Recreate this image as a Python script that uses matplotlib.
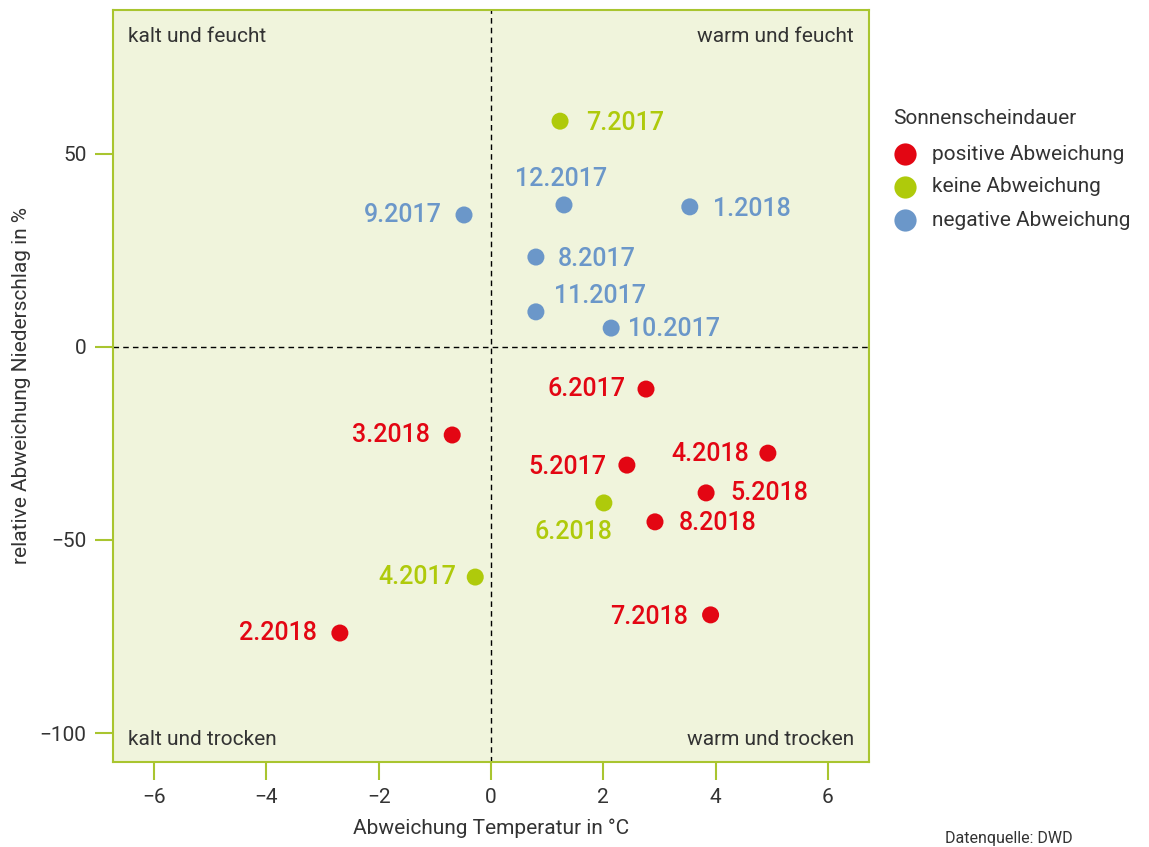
import matplotlib.pyplot as plt

# Daten: Abweichung Temperatur (°C) und relative Abweichung Niederschlag (%)
monate = ["7.2017", "12.2017", "1.2018", "9.2017", "8.2017", "11.2017", "10.2017",
          "6.2017", "3.2018", "4.2018", "5.2017", "5.2018", "6.2018", "8.2018",
          "4.2017", "7.2018", "2.2018"]
temp = [1.23, 1.30, 3.54, -0.48, 0.80, 0.80, 2.14,
        2.76, -0.69, 4.93, 2.42, 3.83, 2.01, 2.92,
        -0.28, 3.91, -2.69]
nieder = [58.5, 36.8, 36.3, 34.2, 23.3, 9.1, 4.9,
          -10.9, -22.8, -27.5, -30.6, -37.8, -40.4, -45.3,
          -59.6, -69.4, -74.1]
sonne = ["keine", "negativ", "negativ", "negativ", "negativ", "negativ", "negativ",
         "positiv", "positiv", "positiv", "positiv", "positiv", "keine", "positiv",
         "keine", "positiv", "positiv"]

farben = {"positiv": "#e30613", "keine": "#afca0b", "negativ": "#6b97c9"}
legende = [("positiv", "positive Abweichung"), ("keine", "keine Abweichung"),
           ("negativ", "negative Abweichung")]

# Beschriftungs-Offsets (Pixel) und Ausrichtung
offs = {"7.2017": (26, -2, "left"), "12.2017": (-3, 26, "center"),
        "1.2018": (23, -2, "left"), "9.2017": (-22, 0, "right"),
        "8.2017": (22, -2, "left"), "11.2017": (18, 16, "left"),
        "10.2017": (17, -1, "left"), "6.2017": (-20, 0, "right"),
        "3.2018": (-22, 0, "right"), "4.2018": (-19, -1, "right"),
        "5.2017": (-21, -2, "right"), "5.2018": (24, 0, "left"),
        "6.2018": (-30, -29, "center"), "8.2018": (24, -1, "left"),
        "4.2017": (-19, 0, "right"), "7.2018": (-23, -2, "right"),
        "2.2018": (-23, 0, "right")}

plt.rcParams['font.family'] = ['Roboto', 'DejaVu Sans']
grau = "#333333"
gruen = "#a9c52f"

fig = plt.figure(figsize=(11.49, 8.47), dpi=100)
ax = fig.add_axes([0.0983, 0.1004, 0.658, 0.8878])
ax.set_facecolor("#f0f4dc")
ax.set_xlim(-6.73, 6.73)
ax.set_ylim(-107.5, 87.3)

ax.axvline(0, color="black", ls=(0, (4, 3)), lw=1, zorder=1)
ax.axhline(0, color="black", ls=(0, (4, 3)), lw=1, zorder=1)

for m, x, y, s in zip(monate, temp, nieder, sonne):
    ax.scatter(x, y, s=150, color=farben[s], edgecolors="none", zorder=3)
    dx, dy, ha = offs[m]
    ax.annotate(m, (x, y), xytext=(dx, dy), textcoords="offset pixels",
                ha=ha, va="center", fontsize=18, fontweight="medium",
                color=farben[s], zorder=4)

for sp in ax.spines.values():
    sp.set_color(gruen)
    sp.set_linewidth(1.5)

ax.set_xticks([-6, -4, -2, 0, 2, 4, 6])
ax.set_xticklabels(["\u22126", "\u22124", "\u22122", "0", "2", "4", "6"])
ax.set_yticks([-100, -50, 0, 50])
ax.set_yticklabels(["\u2212100", "\u221250", "0", "50"])
ax.tick_params(axis="both", length=13, width=1.5, color=gruen, labelsize=15,
               labelcolor=grau, pad=6)

ax.set_xlabel("Abweichung Temperatur in °C", fontsize=15, color=grau, labelpad=8)
ax.set_ylabel("relative Abweichung Niederschlag in %", fontsize=15, color=grau,
              labelpad=6)

kw = dict(fontsize=15, color=grau, transform=ax.transAxes)
ax.text(0.02, 0.965, "kalt und feucht", ha="left", va="center", **kw)
ax.text(0.98, 0.965, "warm und feucht", ha="right", va="center", **kw)
ax.text(0.02, 0.03, "kalt und trocken", ha="left", va="center", **kw)
ax.text(0.98, 0.03, "warm und trocken", ha="right", va="center", **kw)

# Legende
fig.text(893 / 1149, 1 - 118 / 847, "Sonnenscheindauer", fontsize=15, color=grau,
         ha="left", va="center")
for i, (k, txt) in enumerate(legende):
    yy = 1 - (154 + i * 33) / 847
    fig.lines.append(plt.Line2D([905 / 1149], [yy], marker="o", markersize=16,
                                color=farben[k], mec="none", transform=fig.transFigure))
    fig.text(932 / 1149, yy, txt, fontsize=15, color=grau, ha="left", va="center")

fig.text(1073 / 1149, 1 - 838 / 847, "Datenquelle: DWD", fontsize=11.5, color=grau,
         ha="right", va="center")

fig.savefig("out.png", dpi=100)
